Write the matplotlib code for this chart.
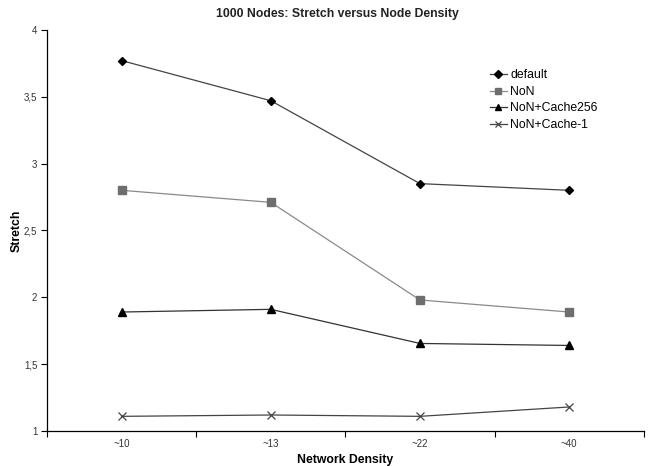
import numpy as np
import matplotlib
matplotlib.use("Agg")
import matplotlib.pyplot as plt
from matplotlib.ticker import FixedLocator, FuncFormatter

plt.rcParams['font.family'] = ['Liberation Sans', 'DejaVu Sans']

# data
densities = ['~10', '~13', '~22', '~40']
stretch_default = [3.77, 3.47, 2.85, 2.80]
stretch_non = [2.80, 2.71, 1.98, 1.89]
stretch_cache256 = [1.89, 1.91, 1.655, 1.64]
stretch_cache1 = [1.11, 1.12, 1.11, 1.18]

x = np.arange(len(densities))

fig = plt.figure(figsize=(6.48, 4.66), dpi=100)
ax = fig.add_axes([0.0725, 0.075, 0.921, 0.861])

ax.plot(x, stretch_default, color='#444444', lw=0.9, marker='D', ms=4.5,
        mfc='black', mec='black', label='default')
ax.plot(x, stretch_non, color='#8a8a8a', lw=0.9, marker='s', ms=5.5,
        mfc='#6e6e6e', mec='#6e6e6e', label='NoN')
ax.plot(x, stretch_cache256, color='#333333', lw=0.9, marker='^', ms=5.5,
        mfc='black', mec='black', label='NoN+Cache256')
ax.plot(x, stretch_cache1, color='#444444', lw=0.9, marker='x', ms=5.5,
        mec='#444444', mew=0.9, label='NoN+Cache-1')

ax.set_xlim(-0.5, len(densities) - 0.5)
ax.set_ylim(1, 4)

# tick marks between categories, labels at the categories
ax.xaxis.set_major_locator(FixedLocator(np.arange(len(densities) + 1) - 0.5))
ax.xaxis.set_major_formatter(FuncFormatter(lambda v, p: ''))
ax.xaxis.set_minor_locator(FixedLocator(x))
ax.xaxis.set_minor_formatter(FuncFormatter(lambda v, p: densities[int(round(v))]))
ax.tick_params(axis='x', which='major', length=4, width=0.8, direction='out')
ax.tick_params(axis='x', which='minor', length=0, labelsize=7,
               labelcolor='#333333', pad=6)

ax.set_yticks(np.arange(1, 4.01, 0.5))
ax.yaxis.set_major_formatter(FuncFormatter(lambda v, p: ('%g' % v).replace('.', ',')))
ax.tick_params(axis='y', length=4, width=0.8, direction='out', labelsize=7,
               labelcolor='#333333', pad=3)

for side in ['top', 'right']:
    ax.spines[side].set_visible(False)
for side in ['left', 'bottom']:
    ax.spines[side].set_linewidth(0.9)

fig.text(0.52, 1 - 14 / 466, '1000 Nodes: Stretch versus Node Density', fontsize=8.8,
         fontweight='bold', color='#222222', ha='center', va='center')
ax.set_xlabel('Network Density', fontsize=8.8, fontweight='bold', labelpad=3)
ax.set_ylabel('Stretch', fontsize=8.8, fontweight='bold')
ax.yaxis.set_label_coords(-0.041, 0.5)

ax.legend(loc='upper left', bbox_to_anchor=(0.748, 0.862), bbox_transform=fig.transFigure,
          frameon=False, fontsize=8.8, handlelength=1.4, handletextpad=0.3,
          labelspacing=0.38, borderaxespad=0, markerscale=0.9)

fig.savefig('out.png', dpi=100)
